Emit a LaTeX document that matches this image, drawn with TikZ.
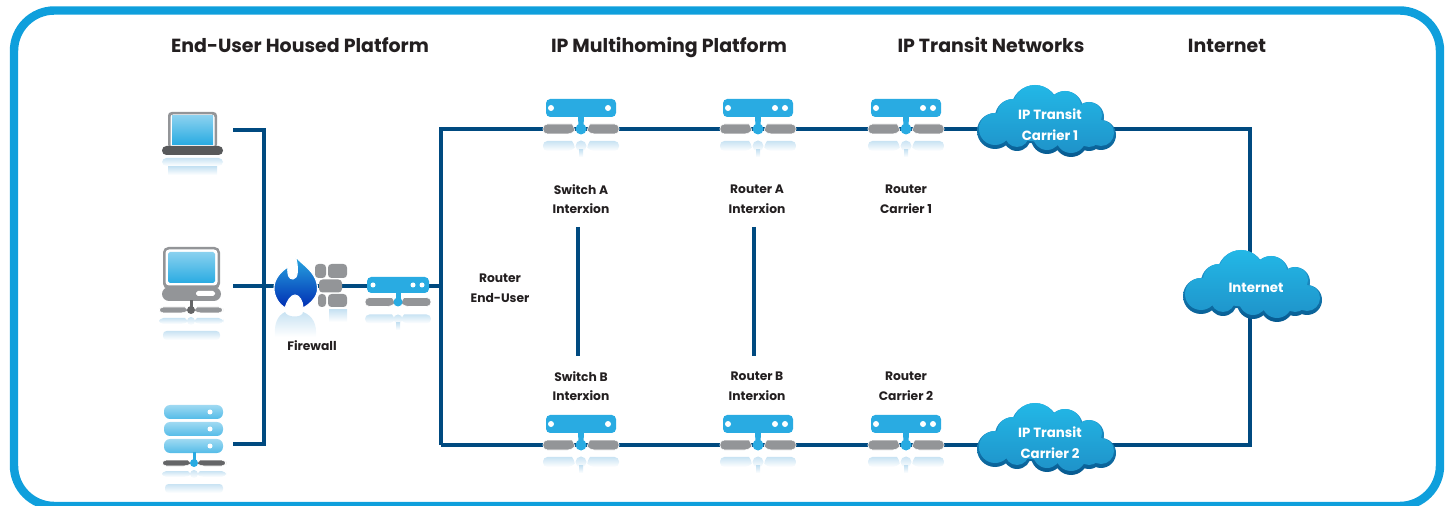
\documentclass[tikz,border=0pt]{standalone}
\usepackage{fontspec}
\setmainfont{Poppins}
\definecolor{framecyan}{HTML}{0F9FDC}
\definecolor{linkblue}{HTML}{004A80}
\definecolor{devblue}{HTML}{29ABE2}
\definecolor{devgray}{HTML}{939598}
\definecolor{darkgray}{HTML}{58595B}
\definecolor{paleblue}{HTML}{C9E3F3}
\definecolor{labelblack}{HTML}{231F20}
\tikzset{
    link/.style={draw=linkblue, line width=2.25pt},
    hub/.style={inner sep=0pt, outer sep=0pt, minimum size=0pt},
    title/.style={font=\bfseries\fontsize{10.8}{12}\selectfont, text=labelblack, anchor=base},
    devlabel/.style={font=\bfseries\fontsize{7}{11.3}\selectfont, text=labelblack, align=center,
        execute at begin node=\strut, execute at end node=\strut},
    cloudlabel/.style={font=\bfseries\fontsize{7.6}{11.8}\selectfont, text=white, align=center,
        execute at begin node=\strut, execute at end node=\strut},
    barsolid/.style={fill=devgray, draw=white, line width=0.3pt},
    bardark/.style={fill=darkgray!80!devgray, draw=white, line width=0.3pt},
    barglow/.style={top color=paleblue, bottom color=white},
    screen/.style={top color=devblue!55, bottom color=devblue}
}
\begin{document}
\begin{tikzpicture}[x=0.02cm, y=-0.02cm]
    \useasboundingbox (0, 0) rectangle (1447, 506);

    % one half of the bar under a device
    \newcommand{\halfbar}[4]{
        \path[#4, rounded corners=2.5pt] (-#2, -#3) -- (-#1, -#3) -- (-#1, #3) -- (-#2, #3)
            [sharp corners] .. controls (-#2+2.5, #3*0.4) and (-#2+2.5, -#3*0.4) .. cycle;
        \begin{scope}[xscale=-1]
            \path[#4, rounded corners=2.5pt] (-#2, -#3) -- (-#1, -#3) -- (-#1, #3) -- (-#2, #3)
                [sharp corners] .. controls (-#2+2.5, #3*0.4) and (-#2+2.5, -#3*0.4) .. cycle;
        \end{scope}
    }

    % bars, stem and disc with their reflection below
    \newcommand{\footbars}[6]{
        \begin{scope}[shift={(#1, #2)}]
            \halfbar{#3}{#4}{#5}{barsolid}
            \fill[devblue] (0, 0) circle (#6);
            \begin{scope}[yshift=-0.34cm]
                \halfbar{#3}{#4}{#5}{barglow}
                \shade[barglow] (0, 0) circle (#6);
                \shade[barglow] (-2, 4) rectangle (2, 11);
            \end{scope}
        \end{scope}
    }

    % switch or router: x, y, right holes
    \newcommand{\routericon}[3]{
        \begin{scope}[shift={(#1, #2)}]
            \fill[devblue, rounded corners=2.4pt] (-35, -30) rectangle (35, -12);
            \fill[devblue] (-3, -13) -- (3, -13) -- (2.5, -2) -- (-2.5, -2) -- cycle;
            \fill[white] (-30, -21) circle (3);
            \foreach \holex in {#3} {
                \fill[white] (\holex, -21) circle (3);
            }
        \end{scope}
        \footbars{#1}{#2}{38}{9}{5}{5.5}
    }

    % cloud outline, #1 grows every bump
    \newcommand{\cloudblobs}[1]{
        (-12, -12) circle (24+#1) (18, -12) circle (18+#1) (42, -4) circle (15+#1)
        (54, 14) circle (15+#1) (-52, 10) circle (18+#1) (-34, -4) circle (18+#1)
        (-30, 16) circle (14+#1) (0, 17) circle (16+#1) (24, 19) circle (17+#1) (42, 16) circle (14+#1)
        (0, 5) ellipse (50 and 18)
    }
    \newcommand{\cloudicon}[2]{
        \begin{scope}[shift={(#1, #2)}]
            \shade[top color=devblue, bottom color=linkblue!85!devblue] \cloudblobs{0};
            \begin{scope}[yshift=0.04cm]
                \shade[top color=devblue!85!cyan, bottom color=devblue!75!linkblue] \cloudblobs{-2};
            \end{scope}
        \end{scope}
    }

    % anchors for the connectors
    \node[hub] (switcha) at (581, 129) {};
    \node[hub] (routera) at (758, 129) {};
    \node[hub] (carrierone) at (906, 129) {};
    \node[hub] (cloudone) at (1047, 129) {};
    \node[hub] (switchb) at (581, 445) {};
    \node[hub] (routerb) at (758, 445) {};
    \node[hub] (carriertwo) at (906, 445) {};
    \node[hub] (cloudtwo) at (1047, 445) {};
    \node[hub] (enduser) at (398, 286) {};
    \node[hub] (firewall) at (312, 286) {};
    \coordinate (ringnw) at (441, 129);
    \coordinate (ringne) at (1250, 129);
    \coordinate (ringse) at (1250, 445);
    \coordinate (ringsw) at (441, 445);
    \coordinate (ringw) at (441, 286);
    \coordinate (laptopend) at (233, 130);
    \coordinate (desktopend) at (233, 286);
    \coordinate (serverend) at (233, 444);
    \coordinate (treetop) at (264, 130);
    \coordinate (treebot) at (264, 444);
    \coordinate (switchtop) at (578, 227);
    \coordinate (switchbot) at (578, 356);
    \coordinate (routertop) at (754, 227);
    \coordinate (routerbot) at (754, 356);

    % frame
    \draw[framecyan, line width=4.8pt, rounded corners=23pt] (14, 10.5) rectangle (1440, 506);

    % connectors
    \draw[link] (ringsw) -- (ringnw) -- (switcha) -- (routera) -- (carrierone) -- (cloudone) -- (ringne)
        -- (ringse) -- (cloudtwo) -- (carriertwo) -- (routerb) -- (switchb) -- (ringsw);
    \draw[link] (laptopend) -- (treetop) -- (treebot) -- (serverend);
    \draw[link] (desktopend) -- (firewall) -- (enduser) -- (ringw);
    \draw[link] (switchtop) -- (switchbot);
    \draw[link] (routertop) -- (routerbot);

    % laptop
    \fill[devgray, rounded corners=2pt] (168, 112) rectangle (217, 148);
    \fill[white, rounded corners=1.5pt] (170.5, 114.5) rectangle (214.5, 148);
    \shade[screen] (172, 116) rectangle (213, 144.5);
    \fill[darkgray, rounded corners=2.5pt] (162, 146) rectangle (223, 155);
    \shade[barglow, rounded corners=2.5pt] (162, 158) rectangle (223, 166);
    \shade[barglow] (168, 167) rectangle (217, 175);

    % desktop
    \fill[devgray, rounded corners=3pt] (163, 247) rectangle (220, 289);
    \fill[white, rounded corners=2pt] (165.5, 249.5) rectangle (217.5, 285.5);
    \shade[screen, rounded corners=1pt] (168, 252) rectangle (215, 283);
    \fill[devgray, rounded corners=4pt] (162, 287) rectangle (221, 301);
    \fill[white, rounded corners=1pt] (196, 291) rectangle (215, 296);
    \fill[darkgray!80!devgray] (189.5, 300) rectangle (192.5, 308);
    \begin{scope}[shift={(191, 310)}]
        \halfbar{32}{6}{3}{barsolid}
        \fill[darkgray!80!devgray] (0, 0) circle (4);
    \end{scope}
    \begin{scope}[shift={(191, 321)}]
        \halfbar{32}{6}{3}{barglow}
        \shade[barglow] (0, 0) circle (4);
    \end{scope}
    \shade[barglow, rounded corners=2pt] (163, 331) rectangle (220, 340);

    % server
    \foreach \rowy in {405, 422, 439} {
        \shade[top color=devblue!45, bottom color=devblue!80, rounded corners=3.5pt] (164, \rowy) rectangle (223, \rowy+14);
        \fill[white] (210, \rowy+7) circle (2.5);
    }
    \fill[devblue] (192.5, 452) rectangle (195.5, 460);
    \begin{scope}[shift={(194, 463)}]
        \halfbar{32}{6}{3}{bardark}
        \fill[devblue] (0, 0) circle (4);
    \end{scope}
    \begin{scope}[shift={(194, 474)}]
        \halfbar{32}{6}{3}{barglow}
        \shade[barglow] (0, 0) circle (4);
    \end{scope}
    \shade[barglow, rounded corners=2pt] (165, 484) rectangle (223, 493);

    % firewall
    \foreach \brickl/\brickt/\brickr/\brickb in {315/264/326/278, 328/264/347/278, 319/279.5/342/292.5, 318/294/326/307, 328/294/347/307} {
        \fill[devgray, rounded corners=2pt] (\brickl, \brickt) rectangle (\brickr, \brickb);
    }
    \shade[barglow] (329, 310) rectangle (347, 322);
    \shade[top color=devblue, middle color=devblue, bottom color=blue!40!linkblue, draw=white, line width=0.6pt]
        (295, 255) .. controls (297, 262) and (317, 270) .. (317.5, 288)
        .. controls (318, 297) and (310, 304) .. (303, 308)
        .. controls (303, 301) and (299, 295) .. (295, 295)
        .. controls (291, 295) and (287, 301) .. (285, 308)
        .. controls (279, 304) and (274, 297) .. (274, 288)
        .. controls (274, 279) and (281, 271) .. (288, 267)
        .. controls (287, 275) and (289, 279) .. (293, 279)
        .. controls (298, 279) and (299, 268) .. (295, 255) -- cycle;
    \shade[barglow] (285, 312) .. controls (277, 316) and (274, 324) .. (275, 337) -- (316, 337)
        .. controls (317, 324) and (313, 316) .. (303, 312) .. controls (303, 318) and (287, 318) .. cycle;

    % network devices
    \foreach \devx in {581} {
        \routericon{\devx}{129}{27}
        \routericon{\devx}{445}{27}
    }
    \foreach \devx in {758, 906} {
        \routericon{\devx}{129}{17, 27}
        \routericon{\devx}{445}{17, 27}
    }
    \begin{scope}[shift={(398, 286)}]
        \fill[devblue, rounded corners=2.4pt] (-31, -9) rectangle (31, 7);
        \fill[devblue] (-2.5, 6) rectangle (2.5, 14);
        \foreach \holex in {-25, 15, 24} {
            \fill[white] (\holex, -1) circle (2.5);
        }
    \end{scope}
    \footbars{398}{302}{33}{6}{4.5}{4.5}

    % clouds
    \cloudicon{1047}{121}
    \cloudicon{1253}{286}
    \cloudicon{1047}{439}

    % titles
    \node[title] (titleuser) at (300, 53) {End-User Housed Platform};
    \node[title] (titlemulti) at (669, 53) {IP Multihoming Platform};
    \node[title] (titletransit) at (991, 53) {IP Transit Networks};
    \node[title] (titlenet) at (1227, 53) {Internet};

    % labels
    \node[devlabel] (labelswitcha) at (581, 202) {Switch A\\Interxion};
    \node[devlabel] (labelroutera) at (757, 202) {Router A\\Interxion};
    \node[devlabel] (labelcarrierone) at (906, 202) {Router\\Carrier 1};
    \node[devlabel] (labelswitchb) at (581, 389) {Switch B\\Interxion};
    \node[devlabel] (labelrouterb) at (757, 389) {Router B\\Interxion};
    \node[devlabel] (labelcarriertwo) at (906, 389) {Router\\Carrier 2};
    \node[devlabel] (labelenduser) at (500, 291) {Router\\End-User};
    \node[devlabel] (labelfirewall) at (312, 347) {Firewall};
    \node[cloudlabel] (labelcloudone) at (1050, 128) {IP Transit\\Carrier 1};
    \node[cloudlabel] (labelcloudtwo) at (1050, 446) {IP Transit\\Carrier 2};
    \node[cloudlabel] (labelinternet) at (1256, 288) {Internet};
\end{tikzpicture}
\end{document}
